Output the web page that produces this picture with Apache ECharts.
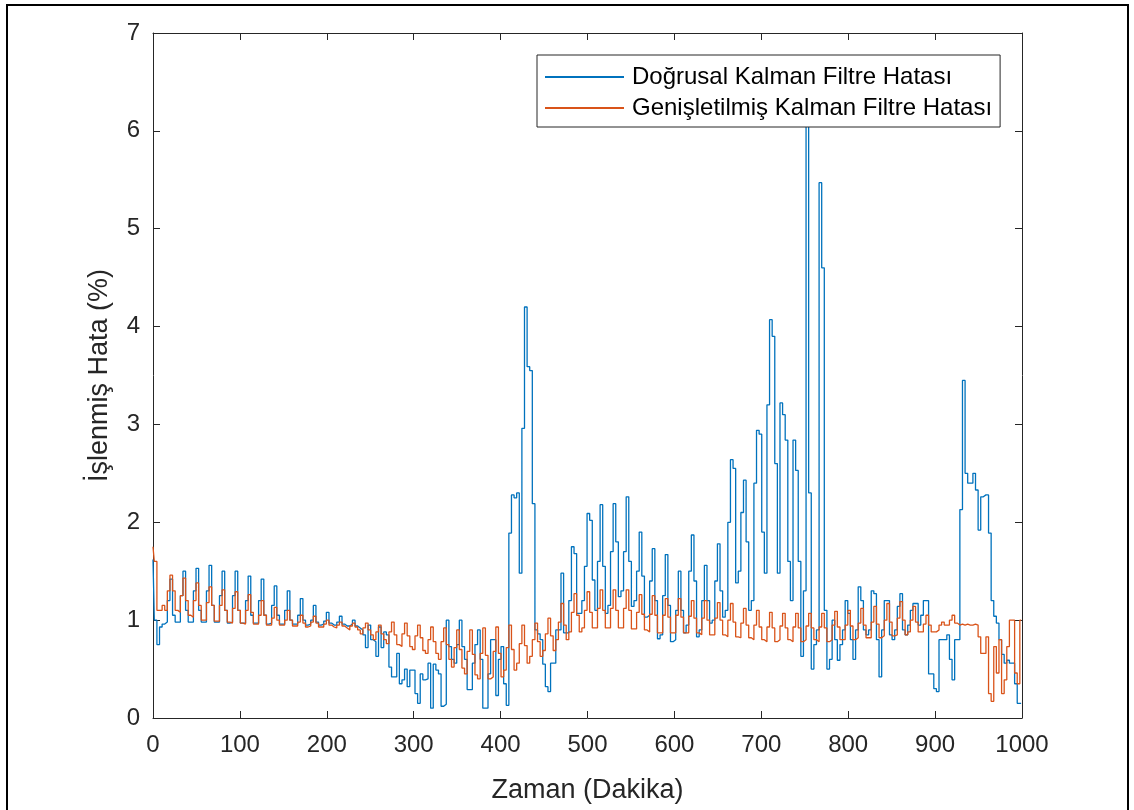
<!DOCTYPE html>
<html>
<head>
<meta charset="utf-8">
<title>Kalman Filtre Hataları</title>
<script src="https://cdn.jsdelivr.net/npm/echarts@6/dist/echarts.min.js"></script>
<style>
  html, body { margin: 0; padding: 0; background: #ffffff; }
  #chart { width: 1134px; height: 810px; }
</style>
</head>
<body>
<div id="chart"></div>
<script>
// Sampling step of the error records, in minutes
const STEP_MIN = 3;

// Tick values
const xTicks = [0, 100, 200, 300, 400, 500, 600, 700, 800, 900, 1000];
const yTicks = [0, 1, 2, 3, 4, 5, 6, 7];

const seriesNames = ['Doğrusal Kalman Filtre Hatası', 'Genişletilmiş Kalman Filtre Hatası'];

// Linear Kalman filter error (%), one value every 3 minutes, 45 min per row
const linearErr = [
  1.62, 1.00, 0.75, 0.93, 0.96,  0.98, 1.20, 1.42, 1.05, 0.98,  0.98, 1.25, 1.50, 1.10, 0.98,
  0.98, 1.30, 1.53, 1.10, 0.98,  0.98, 1.30, 1.56, 1.15, 0.98,  0.98, 1.25, 1.50, 1.10, 0.97,
  0.98, 1.25, 1.50, 1.10, 0.97,  0.97, 1.20, 1.45, 1.05, 0.97,  0.97, 1.20, 1.42, 1.05, 0.96,
  0.97, 1.15, 1.35, 1.05, 0.96,  0.96, 1.10, 1.30, 1.00, 0.96,  0.96, 1.05, 1.22, 1.00, 0.95,
  0.96, 1.00, 1.15, 0.98, 0.95,  0.96, 0.99, 1.08, 0.97, 0.95,  0.95, 0.98, 1.04, 0.96, 0.94,
  0.94, 0.96, 1.00, 0.94, 0.92,  0.90, 0.85, 0.72, 0.95, 0.80,  0.78, 0.63, 0.93, 0.72, 0.88,
  0.85, 0.52, 0.42, 0.42, 0.66,  0.35, 0.39, 0.50, 0.32, 0.49,  0.49, 0.25, 0.15, 0.45, 0.39,
  0.40, 0.56, 0.10, 0.55, 0.49,  0.45, 0.12, 0.14, 1.00, 0.73,  0.60, 0.56, 0.75, 1.00, 0.73,
  0.60, 0.29, 0.29, 0.56, 0.75,  0.90, 0.60, 0.10, 0.10, 0.45,  0.80, 0.80, 0.23, 0.60, 0.73,
  0.35, 0.13, 1.89, 2.28, 2.25,  2.30, 1.48, 2.96, 4.20, 3.59,  3.55, 2.19, 0.90, 0.86, 0.80,
  0.55, 0.32, 0.27, 0.56, 0.56,  0.90, 0.90, 1.48, 0.87, 0.87,  1.20, 1.75, 1.68, 1.07, 1.07,
  1.20, 1.55, 2.09, 2.02, 1.41,  1.10, 1.60, 2.18, 1.55, 1.07,  1.15, 1.70, 2.19, 1.80, 1.24,
  1.30, 1.70, 2.26, 1.60, 1.14,  1.20, 1.50, 1.90, 1.45, 1.03,  1.05, 1.40, 1.73, 1.20, 0.81,
  0.85, 1.25, 1.67, 1.15, 0.78,  0.80, 1.10, 1.50, 1.10, 0.87,  0.95, 1.50, 1.87, 1.40, 0.83,
  0.90, 1.20, 1.56, 1.20, 0.97,  1.00, 1.40, 1.78, 1.30, 1.03,  1.10, 2.00, 2.64, 2.55, 1.38,
  1.50, 2.10, 2.43, 1.80, 1.10,  1.20, 2.40, 2.94, 2.90, 1.90,  1.48, 3.20, 4.07, 3.90, 2.60,
  1.48, 3.22, 3.10, 2.84, 1.60,  1.20, 2.84, 2.53, 1.60, 0.63,  1.30, 6.10, 2.30, 0.50, 0.75,
  0.90, 5.47, 4.60, 1.10, 0.50,  0.60, 1.00, 0.80, 0.59, 0.75,  0.90, 1.20, 1.07, 0.80, 0.60,
  0.90, 1.34, 1.20, 0.90, 0.85,  0.90, 1.30, 1.27, 0.80, 0.42,  0.90, 1.20, 1.20, 0.85, 0.80,
  0.90, 1.14, 1.27, 0.90, 0.85,  0.95, 1.10, 1.17, 1.17, 0.95,  1.05, 1.20, 1.20, 0.45, 0.45,
  0.30, 0.27, 0.80, 0.80, 0.80,  0.85, 0.60, 0.39, 0.80, 0.80,  2.13, 3.45, 2.50, 2.40, 2.40,
  2.50, 2.33, 1.92, 2.26, 2.28,  2.28, 1.89, 1.20, 1.04, 0.97,  0.80, 0.65, 0.56, 0.59, 0.56,
  0.56, 0.35, 0.15, 0.15
];

// Extended Kalman filter error (%), same sampling
const extendedErr = [
  1.75, 1.60, 1.10, 1.10, 1.15,  1.10, 1.30, 1.46, 1.30, 1.10,  1.08, 1.25, 1.43, 1.20, 1.05,
  1.03, 1.20, 1.38, 1.15, 1.00,  1.00, 1.18, 1.34, 1.15, 0.99,  0.99, 1.15, 1.31, 1.10, 0.98,
  0.97, 1.12, 1.29, 1.10, 0.97,  0.96, 1.10, 1.26, 1.08, 0.96,  0.96, 1.05, 1.20, 1.05, 0.95,
  0.95, 1.02, 1.13, 1.00, 0.95,  0.95, 1.00, 1.10, 1.00, 0.94,  0.94, 0.98, 1.05, 0.97, 0.93,
  0.94, 0.98, 1.04, 0.97, 0.93,  0.93, 0.96, 1.00, 0.95, 0.93,  0.92, 0.95, 0.98, 0.94, 0.92,
  0.90, 0.94, 0.97, 0.93, 0.90,  0.86, 0.92, 0.97, 0.90, 0.85,  0.80, 0.88, 0.95, 0.86, 0.80,
  0.76, 0.88, 0.98, 0.85, 0.75,  0.73, 0.86, 0.97, 0.84, 0.73,  0.70, 0.84, 0.95, 0.82, 0.69,
  0.66, 0.80, 0.93, 0.78, 0.66,  0.60, 0.78, 0.92, 0.75, 0.60,  0.52, 0.72, 0.90, 0.70, 0.51,
  0.45, 0.68, 0.90, 0.65, 0.44,  0.40, 0.66, 0.92, 0.64, 0.40,  0.42, 0.68, 0.93, 0.66, 0.42,
  0.49, 0.72, 0.95, 0.70, 0.49,  0.56, 0.76, 0.95, 0.74, 0.56,  0.63, 0.80, 0.97, 0.78, 0.63,
  0.69, 0.86, 1.02, 0.84, 0.69,  0.80, 0.98, 1.17, 0.95, 0.80,  0.88, 1.08, 1.27, 1.05, 0.88,
  0.92, 1.10, 1.29, 1.08, 0.92,  0.92, 1.12, 1.31, 1.10, 0.92,  0.92, 1.12, 1.31, 1.10, 0.92,
  0.92, 1.12, 1.31, 1.10, 0.91,  0.91, 1.08, 1.26, 1.06, 0.90,  0.88, 1.06, 1.25, 1.05, 0.87,
  0.87, 1.05, 1.22, 1.03, 0.87,  0.87, 1.05, 1.22, 1.03, 0.87,  0.87, 1.04, 1.20, 1.02, 0.87,
  0.85, 1.02, 1.20, 1.00, 0.85,  0.85, 1.02, 1.18, 1.00, 0.85,  0.83, 1.00, 1.17, 0.98, 0.83,
  0.82, 0.97, 1.12, 0.95, 0.82,  0.80, 0.95, 1.10, 0.93, 0.80,  0.78, 0.93, 1.08, 0.92, 0.78,
  0.80, 0.94, 1.07, 0.92, 0.80,  0.78, 0.93, 1.07, 0.92, 0.78,  0.80, 0.94, 1.07, 0.92, 0.80,
  0.78, 0.93, 1.07, 0.92, 0.78,  0.80, 0.95, 1.09, 0.93, 0.80,  0.80, 0.95, 1.10, 0.94, 0.80,
  0.82, 0.97, 1.12, 0.95, 0.82,  0.82, 0.98, 1.14, 0.96, 0.82,  0.84, 1.00, 1.17, 0.98, 0.84,
  0.85, 1.02, 1.19, 1.00, 0.85,  0.88, 1.00, 1.14, 0.98, 0.88,  0.88, 0.96, 1.05, 0.95, 0.88,
  0.88, 0.90, 0.95, 0.98, 0.95,  0.95, 1.00, 1.05, 0.97, 0.95,  0.96, 0.95, 0.96, 0.95, 0.95,
  0.96, 0.95, 0.83, 0.66, 0.66,  0.83, 0.25, 0.17, 0.73, 0.46,  0.80, 0.25, 0.39, 0.73, 1.00,
  1.00, 0.46, 0.35, 1.00
];

const COLORS = ['#0072BD', '#D95319'];
const FONT = '"Liberation Sans", Arial, Helvetica, sans-serif';
const INK = '#262626';

const toPoints = vals => vals.map((v, i) => [i * STEP_MIN, v]);

const chart = echarts.init(document.getElementById('chart'), null, { renderer: 'canvas' });

const frameAxisX = (pos, showLabels) => ({
  type: 'value',
  position: pos,
  min: xTicks[0],
  max: xTicks[xTicks.length - 1],
  interval: xTicks[1] - xTicks[0],
  axisLine: { show: true, onZero: false, lineStyle: { color: INK, width: 1 } },
  axisTick: { show: true, inside: true, length: 7, lineStyle: { color: INK } },
  axisLabel: {
    show: showLabels, margin: 15, color: INK, fontSize: 24, fontFamily: FONT,
    formatter: v => String(v)
  },
  splitLine: { show: false }
});

const frameAxisY = (pos, showLabels) => ({
  type: 'value',
  position: pos,
  min: yTicks[0],
  max: yTicks[yTicks.length - 1],
  interval: yTicks[1] - yTicks[0],
  axisLine: { show: true, onZero: false, lineStyle: { color: INK, width: 1 } },
  axisTick: { show: true, inside: true, length: 7, lineStyle: { color: INK } },
  axisLabel: {
    show: showLabels, margin: 13, color: INK, fontSize: 24, fontFamily: FONT,
    formatter: v => String(v)
  },
  splitLine: { show: false }
});

const xMain = Object.assign(frameAxisX('bottom', true), {
  name: 'Zaman (Dakika)',
  nameLocation: 'middle',
  nameGap: 59,
  nameTextStyle: { color: INK, fontSize: 27, fontFamily: FONT }
});
const yMain = Object.assign(frameAxisY('left', true), {
  name: 'İşlenmiş Hata (%)',
  nameLocation: 'middle',
  nameGap: 40,
  nameTextStyle: { color: INK, fontSize: 27, fontFamily: FONT }
});

chart.setOption({
  animation: false,
  backgroundColor: '#ffffff',
  color: COLORS,
  grid: { left: 153, right: 112, top: 33, bottom: 92, containLabel: false },
  xAxis: [xMain, frameAxisX('top', false)],
  yAxis: [yMain, frameAxisY('right', false)],
  legend: {
    data: seriesNames.map((name, i) => ({ name, icon: 'rect', itemStyle: { color: COLORS[i] } })),
    orient: 'vertical',
    left: 537,
    top: 55,
    padding: [9, 8, 6, 8],
    itemGap: 5,
    itemWidth: 79,
    itemHeight: 2,
    borderColor: INK,
    borderWidth: 1,
    backgroundColor: '#ffffff',
    textStyle: { color: '#000000', fontSize: 24, fontFamily: FONT, lineHeight: 26, padding: [0, 0, 0, 3] }
  },
  graphic: [{
    type: 'rect',
    silent: true,
    shape: { x: 7, y: 5, width: 1121, height: 830 },
    style: { fill: 'none', stroke: '#000000', lineWidth: 2 }
  }],
  series: [
    {
      name: seriesNames[0],
      type: 'line',
      step: 'middle',
      showSymbol: false,
      symbol: 'none',
      data: toPoints(linearErr),
      lineStyle: { color: COLORS[0], width: 1.3 },
      z: 3
    },
    {
      name: seriesNames[1],
      type: 'line',
      step: 'middle',
      showSymbol: false,
      symbol: 'none',
      data: toPoints(extendedErr),
      lineStyle: { color: COLORS[1], width: 1.3 },
      z: 4
    }
  ]
});
</script>
</body>
</html>
